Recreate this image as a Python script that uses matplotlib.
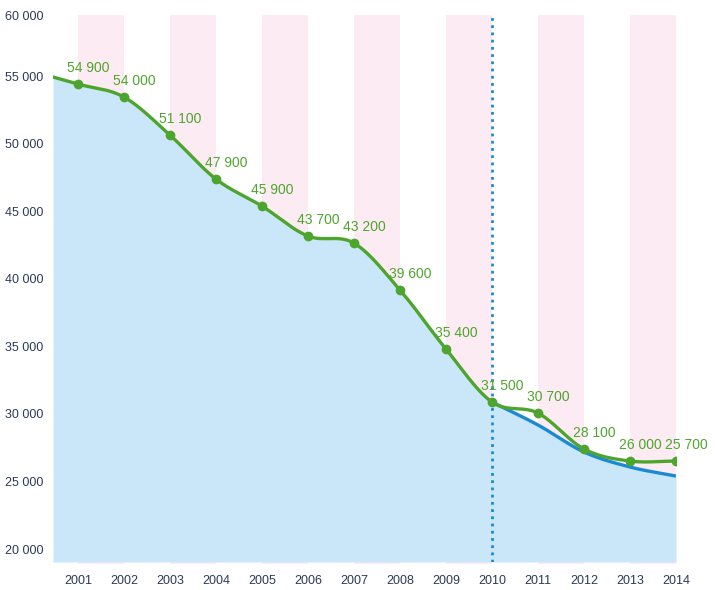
import numpy as np
import matplotlib
matplotlib.use("Agg")
import matplotlib.pyplot as plt

plt.rcParams['font.family'] = ['Liberation Sans', 'DejaVu Sans']

# ---- data ----
years = [2001, 2002, 2003, 2004, 2005, 2006, 2007, 2008, 2009, 2010, 2011, 2012, 2013, 2014]
# plotted positions of the green series
green_vals = [54410, 53450, 50640, 47380, 45380, 43160, 42640, 39170, 34800, 30880, 30060, 27400, 26510, 26510]
# printed labels of the green series
green_labels = ["54 900", "54 000", "51 100", "47 900", "45 900", "43 700", "43 200",
                "39 600", "35 400", "31 500", "30 700", "28 100", "26 000", "25 700"]
# curve start at left edge of plot
start_year = 2000.46
start_val = 54930
# blue trend series from 2010
blue_years = [2010, 2011, 2012, 2013, 2014]
blue_vals = [30880, 29180, 27180, 26070, 25400]
band_starts = [2001, 2003, 2005, 2007, 2009, 2011, 2013]
y_ticks = [20000, 25000, 30000, 35000, 40000, 45000, 50000, 55000]
y_tick_labels = ["20 000", "25 000", "30 000", "35 000", "40 000", "45 000", "50 000", "55 000"]
y_top_label = "60 000"
divider_year = 2010

GREEN = '#4ea52d'
BLUE = '#1a8ad4'
FILL = '#c9e7f8'
PINK = '#fcebf2'
NAVY = '#2b3a57'


def smooth(xs, ys, n=40):
    xs = np.asarray(xs, float)
    ys = np.asarray(ys, float)
    px, py = [], []
    for i in range(len(xs) - 1):
        x0, x1 = xs[i], xs[i + 1]
        y0, y1 = ys[i], ys[i + 1]
        if i == 0:
            m0 = (y1 - y0) / (x1 - x0)
        else:
            m0 = (ys[i + 1] - ys[i - 1]) / (xs[i + 1] - xs[i - 1])
        if i + 2 >= len(xs):
            m1 = (y1 - y0) / (x1 - x0)
        else:
            m1 = (ys[i + 2] - ys[i]) / (xs[i + 2] - xs[i])
        h = x1 - x0
        t = np.linspace(0, 1, n, endpoint=(i == len(xs) - 2))
        h00 = 2 * t**3 - 3 * t**2 + 1
        h10 = t**3 - 2 * t**2 + t
        h01 = -2 * t**3 + 3 * t**2
        h11 = t**3 - t**2
        px.append(x0 + t * h)
        py.append(h00 * y0 + h10 * h * m0 + h01 * y1 + h11 * h * m1)
    return np.concatenate(px), np.concatenate(py)


fig = plt.figure(figsize=(7.15, 5.9), dpi=100)
ax = fig.add_axes([53 / 715, 1 - 562 / 590, (676 - 53) / 715, (562 - 15) / 590])

ymin, ymax = 19040, 59520
ax.set_xlim(start_year, 2014)
ax.set_ylim(ymin, ymax)

for b in band_starts:
    ax.axvspan(b, b + 1, ymin=-0.003, ymax=1, color=PINK, lw=0, zorder=0, clip_on=False)

gx_all = [start_year] + years
gy_all = [start_val] + green_vals
sgx, sgy = smooth(gx_all, gy_all)
sbx, sby = smooth(blue_years, blue_vals)

mask = sgx <= divider_year
fx = np.concatenate([sgx[mask], sbx[1:]])
fy = np.concatenate([sgy[mask], sby[1:]])
ax.fill_between(fx, ymin, fy, color=FILL, lw=0, zorder=1)

ax.axvline(divider_year, color=BLUE, lw=2, ls=(0, (1, 1.6)), zorder=2)

ax.plot(sbx, sby, color=BLUE, lw=2.4, zorder=3, solid_capstyle='butt')
ax.plot(sgx, sgy, color=GREEN, lw=2.4, zorder=4)
ax.plot(years, green_vals, 'o', color=GREEN, ms=6, zorder=5)

for x, y, lab in zip(years, green_vals, green_labels):
    ax.annotate(lab, (x, y), xytext=(7.5, 11.5), textcoords='offset points',
                ha='center', va='center', color=GREEN, fontsize=10, zorder=6,
                annotation_clip=False)

ax.set_xticks(years)
ax.set_xticklabels([str(y) for y in years], color=NAVY, fontsize=9)
ax.set_yticks(y_ticks + [ymax])
ax.set_yticklabels(y_tick_labels + [y_top_label], color=NAVY, fontsize=9)
ax.tick_params(length=0, pad=7)
ax.tick_params(axis='x', pad=9)
for s in ax.spines.values():
    s.set_visible(False)

fig.savefig('out.png', dpi=100)
